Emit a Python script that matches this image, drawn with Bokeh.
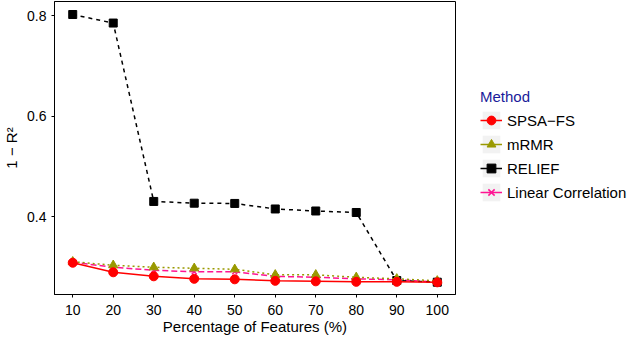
from bokeh.plotting import figure
from bokeh.layouts import row
from bokeh.models import Legend, LegendItem, Range1d
from bokeh.embed import file_html
from bokeh.resources import INLINE

pct = [10, 20, 30, 40, 50, 60, 70, 80, 90, 100]
spsa = [0.308, 0.289, 0.281, 0.276, 0.275, 0.272, 0.271, 0.270, 0.270, 0.269]
mrmr = [0.310, 0.303, 0.299, 0.297, 0.295, 0.284, 0.284, 0.279, 0.276, 0.272]
relief = [0.802, 0.785, 0.430, 0.4265, 0.426, 0.415, 0.411, 0.408, 0.2726, 0.2693]
lincorr = [0.309, 0.299, 0.293, 0.290, 0.290, 0.281, 0.279, 0.276, 0.274, 0.270]
y_ticks = [0.4, 0.6, 0.8]

FONT = "Liberation Sans"

p = figure(width=456, height=338, x_range=Range1d(5.5, 104.5), y_range=Range1d(0.2448, 0.8279),
           output_backend="svg", toolbar_location=None,
           min_border_left=54, min_border_right=1, min_border_top=1, min_border_bottom=44)
p.xgrid.visible = False
p.ygrid.visible = False
p.outline_line_color = "black"
p.outline_line_width = 1

for ax in (p.xaxis, p.yaxis):
    ax.axis_line_color = "black"
    ax.axis_line_width = 1
    ax.major_tick_out = 3
    ax.major_tick_in = 0
    ax.minor_tick_out = 0
    ax.minor_tick_in = 0
    ax.major_label_text_font = FONT
    ax.major_label_text_font_size = "14px"
    ax.major_label_text_color = "black"
    ax.axis_label_text_font = FONT
    ax.axis_label_text_font_size = "15px"
    ax.axis_label_text_font_style = "normal"
    ax.axis_label_text_color = "black"

p.xaxis.ticker = pct
p.yaxis.ticker = y_ticks
p.xaxis.axis_label = "Percentage of Features (%)"
p.yaxis.axis_label = "1 \u2212 R\u00b2"
p.xaxis.major_label_standoff = 7
p.xaxis.axis_label_standoff = 0
p.yaxis.major_label_standoff = 5
p.yaxis.axis_label_standoff = 4

series = [
    ("Linear Correlation", lincorr, "#ff1493", "6 3", "x", 7),
    ("RELIEF", relief, "black", "4 4", "square", 8),
    ("mRMR", mrmr, "#999900", "2 3", "triangle", 9),
    ("SPSA\u2212FS", spsa, "red", "solid", "circle", 9),
]

for name, vals, color, dash, marker, size in series:
    p.line(pct, vals, line_color=color, line_width=1.5, line_dash=dash)
    if marker == "x":
        p.scatter(pct, vals, marker="x", size=size, line_color=color, line_width=1.5)
    else:
        p.scatter(pct, vals, marker=marker, size=size, fill_color=color, line_color=color)

# legend panel (its glyphs sit outside the visible range, only the legend shows)
q = figure(width=172, height=338, x_range=Range1d(0, 1), y_range=Range1d(0, 1),
           output_backend="svg", toolbar_location=None,
           x_axis_location=None, y_axis_location=None,
           min_border_left=0, min_border_right=0, min_border_top=1, min_border_bottom=44)
q.xgrid.visible = False
q.ygrid.visible = False
q.outline_line_color = None

off = [-10, -11]
items = {}
for name, vals, color, dash, marker, size in series:
    bg = q.rect(x=off, y=off, width=0.5, height=0.5, fill_color="#f2f2f2", line_color=None)
    ln = q.line(x=off, y=off, line_color=color, line_width=1.5)
    if marker == "x":
        mk = q.scatter(x=off, y=off, marker="x", size=size, line_color=color, line_width=1.5)
    else:
        mk = q.scatter(x=off, y=off, marker=marker, size=size, fill_color=color, line_color=color)
    items[name] = LegendItem(label=name, renderers=[bg, ln, mk])

order = ["SPSA\u2212FS", "mRMR", "RELIEF", "Linear Correlation"]
legend = Legend(items=[items[k] for k in order], title="Method", location=(24, 91),
                glyph_width=22, glyph_height=22, label_height=22, spacing=2,
                padding=0, margin=0, border_line_color=None, background_fill_alpha=0,
                label_standoff=5, title_standoff=4,
                title_text_color="#1a1a9a", title_text_font=FONT, title_text_font_size="15px",
                title_text_font_style="normal",
                label_text_font=FONT, label_text_font_size="15px", label_text_color="black")
q.add_layout(legend, "center")

layout = row(p, q, spacing=0)
open("out.html", "w").write(file_html(layout, INLINE))
